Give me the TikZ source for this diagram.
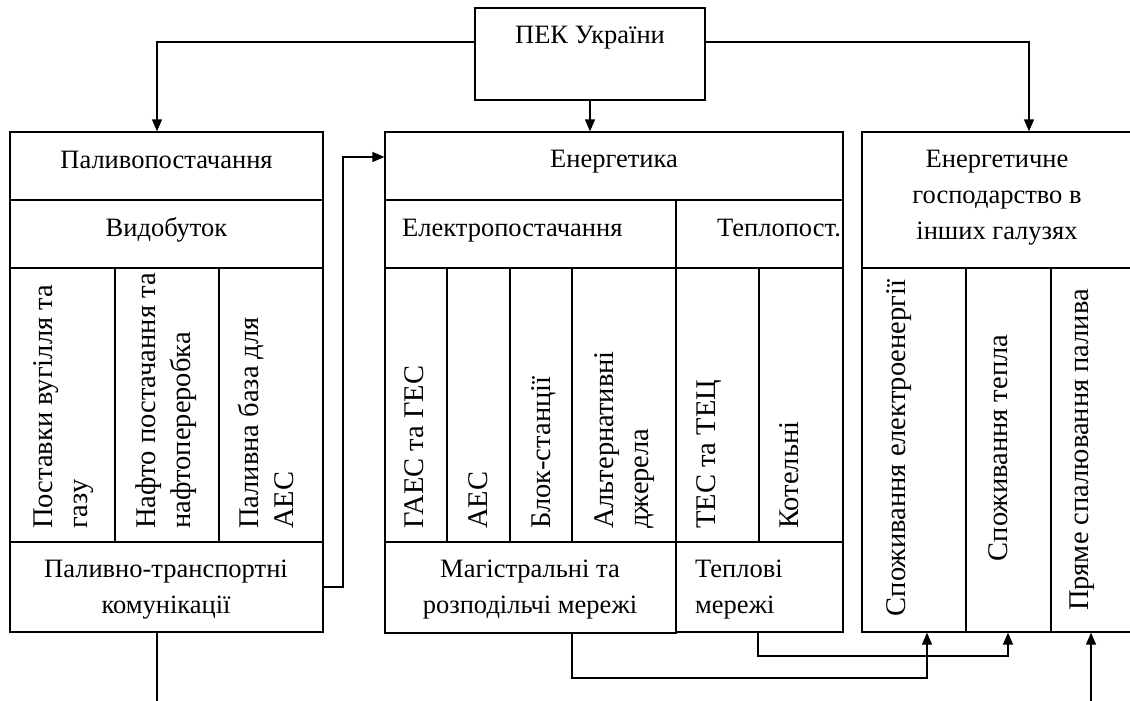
\documentclass[tikz,border=0pt]{standalone}
\usepackage{fontspec}
\setmainfont{Liberation Serif}
\usetikzlibrary{arrows.meta,fit}
\begin{document}
\begin{tikzpicture}[x=1pt,y=-1pt,
  cell/.style={draw, line width=1.3pt, inner sep=0pt},
  lbl/.style={font=\fontsize{26.5}{36}\selectfont, inner sep=0pt},
  vlbl/.style={font=\fontsize{28.5}{36}\selectfont, inner sep=0pt, rotate=90, anchor=base west},
  vclbl/.style={font=\fontsize{28.5}{36}\selectfont, inner sep=0pt, rotate=90, anchor=base},
  conn/.style={draw, line width=1.3pt},
  arr/.style={conn, -{Triangle[length=12pt,width=10pt]}}]
\clip (0,0) rectangle (1130,701);
\fill[white] (0,0) rectangle (1130,701);
% top box
\node[cell, fit={(475,8)(705,100)}] (pek) {};
\node[lbl, anchor=base] (tpek) at (590,44) {ПЕК України};
% left block
\node[cell, fit={(10,132)(323,200)}] (l1) {};
\node[cell, fit={(10,200)(323,268)}] (l2) {};
\node[cell, fit={(10,268)(115,542)}] (l3a) {};
\node[cell, fit={(115,268)(219,542)}] (l3b) {};
\node[cell, fit={(219,268)(323,542)}] (l3c) {};
\node[cell, fit={(10,542)(323,632)}] (l4) {};
\node[lbl, anchor=base] (tl1) at (166.5,168) {Паливопостачання};
\node[lbl, anchor=base] (tl2) at (166.5,236) {Видобуток};
\node[vlbl] (tl3a1) at (52,529) {Поставки вугілля та};
\node[vlbl] (tl3a2) at (87,529) {газу};
\node[vlbl] (tl3b1) at (155,529) {Нафто постачання та};
\node[vlbl] (tl3b2) at (190,529) {нафтопереробка};
\node[vlbl] (tl3c1) at (258,529) {Паливна база для};
\node[vlbl] (tl3c2) at (293,529) {АЕС};
\node[lbl, anchor=base] (tl4a) at (166,577) {Паливно-транспортні};
\node[lbl, anchor=base] (tl4b) at (166,613) {комунікації};
% middle block
\node[cell, fit={(385,132)(843,200)}] (e1) {};
\node[cell, fit={(385,200)(676,268)}] (e2a) {};
\node[cell, fit={(676,200)(843,268)}] (e2b) {};
\node[cell, fit={(385,268)(447,542)}] (e3a) {};
\node[cell, fit={(447,268)(510,542)}] (e3b) {};
\node[cell, fit={(510,268)(572,542)}] (e3c) {};
\node[cell, fit={(572,268)(676,542)}] (e3d) {};
\node[cell, fit={(676,268)(759,542)}] (e3e) {};
\node[cell, fit={(759,268)(843,542)}] (e3f) {};
\node[cell, fit={(385,542)(676,633)}] (e4a) {};
\node[cell, fit={(676,542)(843,632)}] (e4b) {};
\node[lbl, anchor=base] (te1) at (614,167) {Енергетика};
\node[lbl, anchor=base west] (te2a) at (402,236) {Електропостачання};
\node[lbl, anchor=base west] (te2b) at (717,236) {Теплопост.};
\node[vlbl] (te3a) at (423,529) {ГАЕС та ГЕС};
\node[vlbl] (te3b) at (487,529) {АЕС};
\node[vlbl] (te3c) at (550,529) {Блок-станції};
\node[vlbl] (te3d1) at (613,529) {Альтернативні};
\node[vlbl] (te3d2) at (648,529) {джерела};
\node[vlbl] (te3e) at (715,529) {ТЕС та ТЕЦ};
\node[vlbl] (te3f) at (798,529) {Котельні};
\node[lbl, anchor=base] (te4a1) at (530,577) {Магістральні та};
\node[lbl, anchor=base] (te4a2) at (530,613) {розподільчі мережі};
\node[lbl, anchor=base west] (te4b1) at (695,577) {Теплові};
\node[lbl, anchor=base west] (te4b2) at (695,613) {мережі};
% right block
\node[cell, fit={(862,132)(1132,268)}] (r1) {};
\node[cell, fit={(862,268)(966,632)}] (r2a) {};
\node[cell, fit={(966,268)(1051,632)}] (r2b) {};
\node[cell, fit={(1051,268)(1132,632)}] (r2c) {};
\node[lbl, anchor=base] (tr1a) at (997,167) {Енергетичне};
\node[lbl, anchor=base] (tr1b) at (997,203) {господарство в};
\node[lbl, anchor=base] (tr1c) at (997,239) {інших галузях};
\node[vclbl] (tr2a) at (905,448) {Споживання електроенергії};
\node[vclbl] (tr2b) at (1007,448) {Споживання тепла};
\node[vclbl] (tr2c) at (1088,450) {Пряме спалювання палива};
% connectors
\coordinate (c1) at (157,42);
\draw[arr] (pek.west |- c1) -| (l1.north -| c1);
\draw[arr] (pek.south) -- (pek.south |- e1.north);
\coordinate (c2) at (1029,42);
\draw[arr] (pek.east |- c2) -| (r1.north -| c2);
\coordinate (c3) at (343,157);
\draw[arr] (l4.east) -| (c3) -- (e1.west |- c3);
\coordinate (c4) at (157,701);
\draw[conn] (l4.south -| c4) -- (c4);
\coordinate (c5) at (572,678);
\coordinate (c6) at (927,678);
\draw[arr] (e4a.south -| c5) -- (c5) -- (c6) -- (r2a.south -| c6);
\coordinate (c7) at (758,656);
\coordinate (c8) at (1008,656);
\draw[arr] (e4b.south -| c7) -- (c7) -- (c8) -- (r2b.south -| c8);
\coordinate (c9) at (1091,701);
\draw[arr] (c9) -- (r2c.south -| c9);
\end{tikzpicture}
\end{document}
